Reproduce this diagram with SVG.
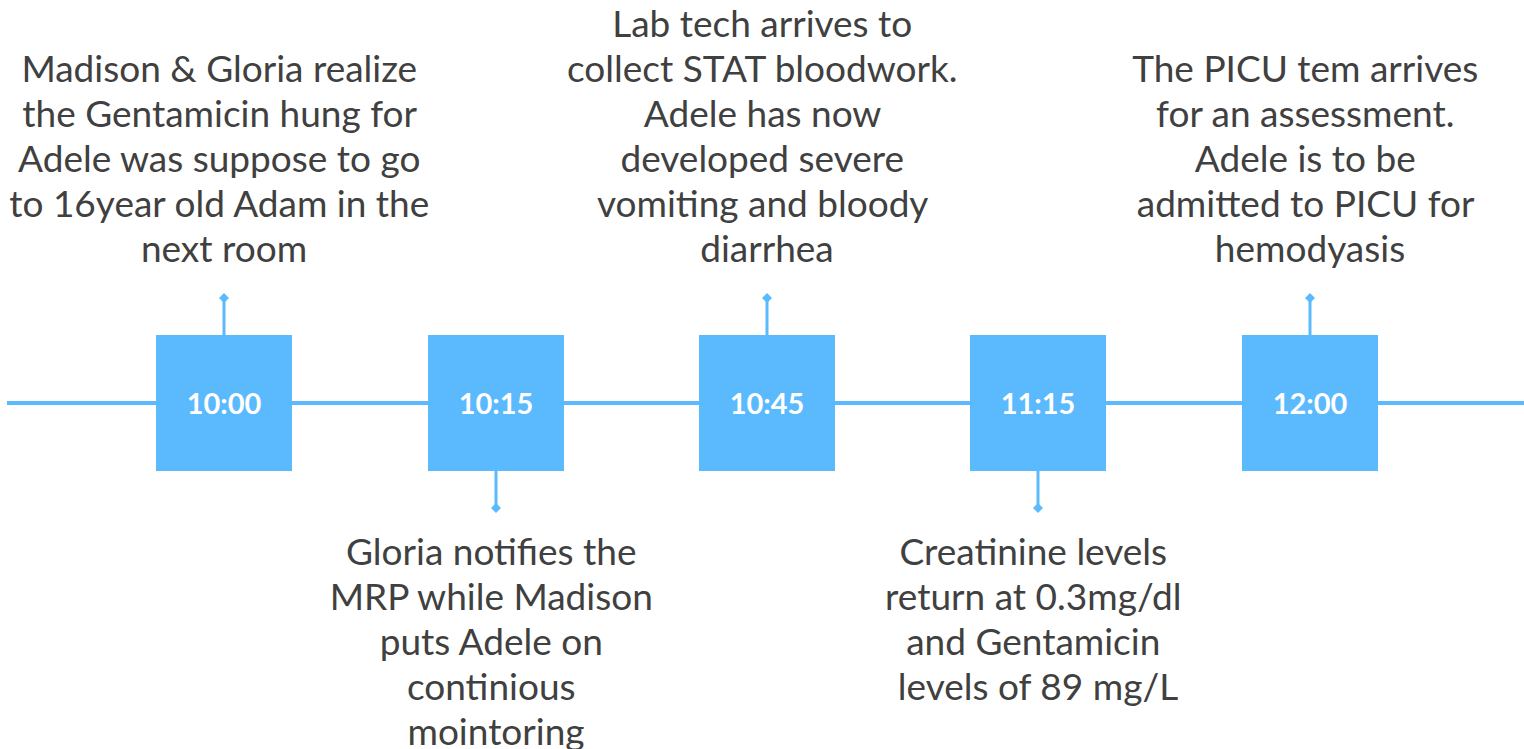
<svg xmlns="http://www.w3.org/2000/svg" width="1524" height="749" viewBox="0 0 1524 749">
  <style>
    .axis { stroke: #5bb9fe; stroke-width: 4; fill: none; }
    .stem { stroke: #5bb9fe; stroke-width: 3; fill: none; }
    .tip { fill: #5bb9fe; }
    .box { fill: #5bb9fe; }
    .time { font-family: Lato, "Liberation Sans", sans-serif; font-weight: 700; font-size: 29px; fill: #ffffff; text-anchor: middle; }
    .note { font-family: Lato, "Liberation Sans", sans-serif; font-size: 37px; fill: #404040; text-anchor: middle; }
  </style>
  <rect width="1524" height="749" fill="#ffffff"/>

  <!-- timeline axis and callout stems -->
  <g id="connectors">
    <line class="axis" x1="7" y1="403" x2="1524" y2="403"/>
    <line class="stem" x1="224" y1="335" x2="224" y2="298"/>
    <polygon class="tip" points="224,293 229,298 224,303 219,298"/>
    <line class="stem" x1="496" y1="471" x2="496" y2="508"/>
    <polygon class="tip" points="496,503 501,508 496,513 491,508"/>
    <line class="stem" x1="767" y1="335" x2="767" y2="298"/>
    <polygon class="tip" points="767,293 772,298 767,303 762,298"/>
    <line class="stem" x1="1038" y1="471" x2="1038" y2="508"/>
    <polygon class="tip" points="1038,503 1043,508 1038,513 1033,508"/>
    <line class="stem" x1="1310" y1="335" x2="1310" y2="298"/>
    <polygon class="tip" points="1310,293 1315,298 1310,303 1305,298"/>
  </g>

  <g id="t1000">
    <rect class="box" x="156" y="335" width="136" height="136"/>
    <text class="time" x="224" y="414">10:00</text>
    <text class="note" x="224">
      <tspan x="224" y="82">Madison &amp; Gloria realize</tspan>
      <tspan x="224" y="127">the Gentamicin hung for</tspan>
      <tspan x="224" y="172">Adele was suppose to go</tspan>
      <tspan x="224" y="217">to 16year old Adam in the</tspan>
      <tspan x="224" y="262">next room</tspan>
    </text>
  </g>

  <g id="t1015">
    <rect class="box" x="428" y="335" width="136" height="136"/>
    <text class="time" x="496" y="414">10:15</text>
    <text class="note" x="496">
      <tspan x="496" y="565">Gloria notifies the</tspan>
      <tspan x="496" y="610">MRP while Madison</tspan>
      <tspan x="496" y="655">puts Adele on</tspan>
      <tspan x="496" y="700">continious</tspan>
      <tspan x="496" y="745">mointoring</tspan>
    </text>
  </g>

  <g id="t1045">
    <rect class="box" x="699" y="335" width="136" height="136"/>
    <text class="time" x="767" y="414">10:45</text>
    <text class="note" x="767">
      <tspan x="767" y="37">Lab tech arrives to</tspan>
      <tspan x="767" y="82">collect STAT bloodwork.</tspan>
      <tspan x="767" y="127">Adele has now</tspan>
      <tspan x="767" y="172">developed severe</tspan>
      <tspan x="767" y="217">vomiting and bloody</tspan>
      <tspan x="767" y="262">diarrhea</tspan>
    </text>
  </g>

  <g id="t1115">
    <rect class="box" x="970" y="335" width="136" height="136"/>
    <text class="time" x="1038" y="414">11:15</text>
    <text class="note" x="1038">
      <tspan x="1038" y="565">Creatinine levels</tspan>
      <tspan x="1038" y="610">return at 0.3mg/dl</tspan>
      <tspan x="1038" y="655">and Gentamicin</tspan>
      <tspan x="1038" y="700">levels of 89 mg/L</tspan>
    </text>
  </g>

  <g id="t1200">
    <rect class="box" x="1242" y="335" width="136" height="136"/>
    <text class="time" x="1310" y="414">12:00</text>
    <text class="note" x="1310">
      <tspan x="1310" y="82">The PICU tem arrives</tspan>
      <tspan x="1310" y="127">for an assessment.</tspan>
      <tspan x="1310" y="172">Adele is to be</tspan>
      <tspan x="1310" y="217">admitted to PICU for</tspan>
      <tspan x="1310" y="262">hemodyasis</tspan>
    </text>
  </g>
</svg>
